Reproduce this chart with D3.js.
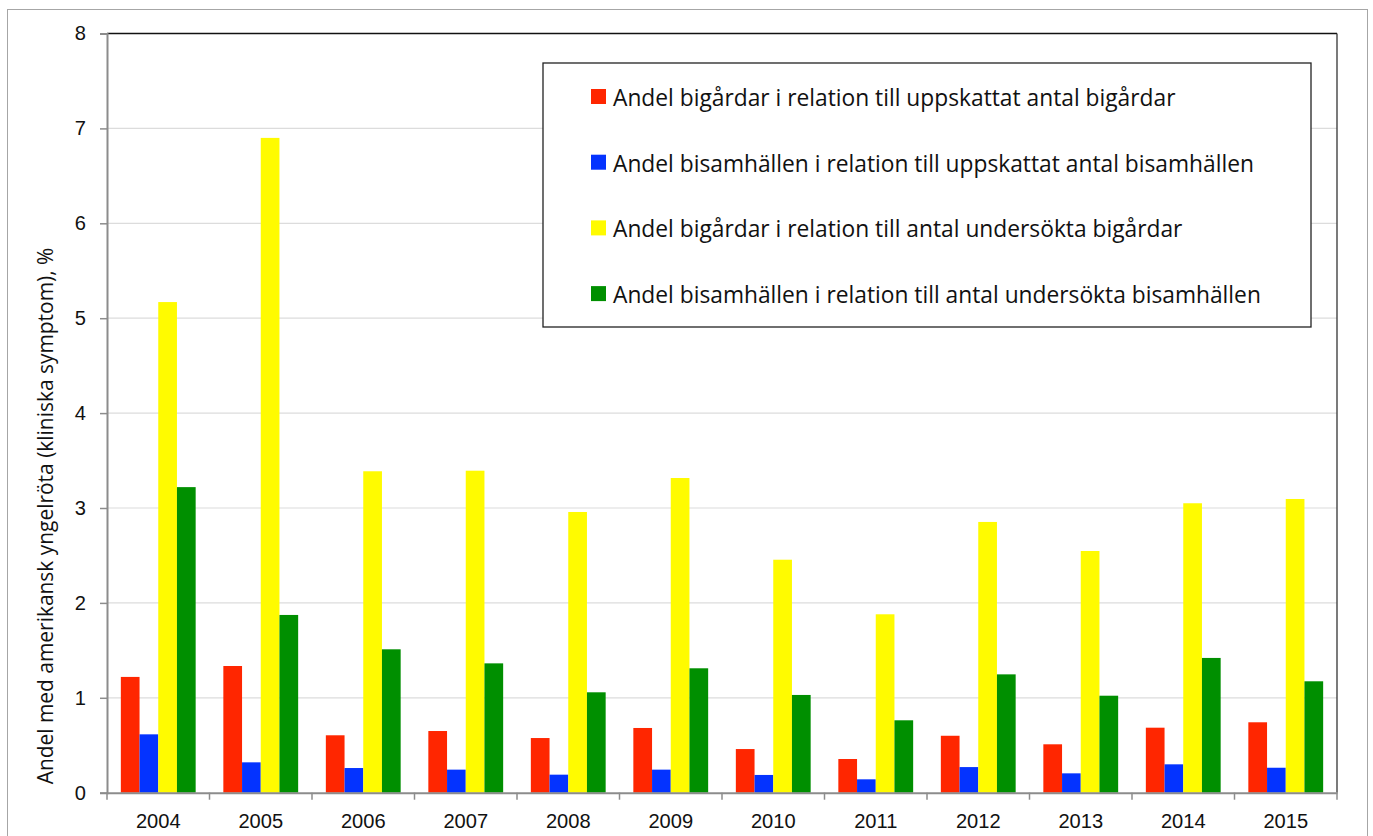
<!DOCTYPE html>
<html><head><meta charset="utf-8">
<script src="https://cdn.jsdelivr.net/npm/d3@7"></script>
<style>
html,body{margin:0;padding:0;background:#fff;}
svg{display:block;font-family:"Open Sans",sans-serif;}
</style></head>
<body><svg id="c" width="1373" height="836"></svg>
<script>
const years = ["2004","2005","2006","2007","2008","2009","2010","2011","2012","2013","2014","2015"];
const seriesNames = [
  "Andel bigårdar i relation till uppskattat antal bigårdar",
  "Andel bisamhällen i relation till uppskattat antal bisamhällen",
  "Andel bigårdar i relation till antal undersökta bigårdar",
  "Andel bisamhällen i relation till antal undersökta bisamhällen"
];
const redValues    = [1.22, 1.335, 0.605, 0.65, 0.576, 0.682, 0.46, 0.355, 0.60, 0.51, 0.685, 0.742];
const blueValues   = [0.615, 0.32, 0.26, 0.243, 0.19, 0.243, 0.187, 0.141, 0.27, 0.204, 0.299, 0.263];
const yellowValues = [5.17, 6.90, 3.387, 3.393, 2.958, 3.316, 2.455, 1.88, 2.853, 2.547, 3.05, 3.095];
const greenValues  = [3.22, 1.873, 1.511, 1.363, 1.058, 1.311, 1.03, 0.763, 1.247, 1.022, 1.42, 1.174];
const seriesColors = ["#FF2600", "#0433FF", "#FFFB00", "#008F00"];
const yTicks = [0,1,2,3,4,5,6,7,8];
const yLabel = "Andel med amerikansk yngelröta (kliniska symptom), %";

const series = [redValues, blueValues, yellowValues, greenValues];
const svg = d3.select("#c");
const L = 107, R = 1337, T = 33.5, B = 792.7;

// outer frame
svg.append("rect").attr("x",7.5).attr("y",9.5).attr("width",1360).attr("height",900)
  .attr("fill","none").attr("stroke","#a6a6a6").attr("stroke-width",1);

const x0 = d3.scaleBand().domain(years).range([L,R]).paddingInner(0).paddingOuter(0);
const x1 = d3.scaleBand().domain(d3.range(4)).range([0, x0.bandwidth()]).paddingOuter(0.74).paddingInner(0);
const y = d3.scaleLinear().domain([0,8]).range([B,T]);

// gridlines
svg.append("g").selectAll("line").data(yTicks.filter(t=>t>0 && t<8)).join("line")
  .attr("x1",L).attr("x2",R).attr("y1",d=>y(d)).attr("y2",d=>y(d))
  .attr("stroke","#dcdcdc").attr("stroke-width",1.2);

// bars
const g = svg.append("g");
years.forEach((yr,i)=>{
  series.forEach((vals,s)=>{
    g.append("rect")
      .attr("x", x0(yr)+x1(s))
      .attr("width", x1.bandwidth())
      .attr("y", y(vals[i]))
      .attr("height", y(0)-y(vals[i]))
      .attr("fill", seriesColors[s]);
  });
});

// plot border top/right
svg.append("line").attr("x1",L).attr("x2",R).attr("y1",T).attr("y2",T).attr("stroke","#111").attr("stroke-width",1.3);
svg.append("line").attr("x1",R).attr("x2",R).attr("y1",T).attr("y2",B).attr("stroke","#333").attr("stroke-width",1.3);

// tick font size fitted so "2004" is ~46px wide
const probe = svg.append("text").attr("font-size",20).text("2004");
const tickFs = 20*46/probe.node().getComputedTextLength();
probe.remove();

// y axis
const yAxis = d3.axisLeft(y).tickValues(yTicks).tickSize(7).tickPadding(14).tickFormat(d3.format("d"));
const ya = svg.append("g").attr("transform",`translate(${L},0)`).call(yAxis);
ya.select(".domain").attr("stroke","#8c8c8c").attr("stroke-width",2);
ya.selectAll(".tick line").attr("stroke","#8c8c8c").attr("stroke-width",1.5);
ya.selectAll(".tick text").attr("font-size",tickFs).attr("fill","#111");

// x axis
const xa = svg.append("g").attr("transform",`translate(0,${B})`).call(d3.axisBottom(x0).tickSize(0).tickPadding(21));
xa.select(".domain").attr("stroke","#8c8c8c").attr("stroke-width",2);
xa.selectAll(".tick text").attr("font-size",tickFs).attr("fill","#111");
// boundary ticks
const bounds = years.map(yr=>x0(yr)).concat([R]);
svg.append("g").selectAll("line").data(bounds).join("line")
  .attr("x1",d=>d).attr("x2",d=>d).attr("y1",B).attr("y2",B+7)
  .attr("stroke","#8c8c8c").attr("stroke-width",1.5);

// y label (fit to reference length)
const yl = svg.append("text").attr("transform",`translate(53,516) rotate(-90)`)
  .attr("text-anchor","middle").attr("font-size",20).attr("fill","#111")
  .text(yLabel);
const ylw = yl.node().getComputedTextLength();
yl.attr("font-size", 20*537/ylw);

// legend
const lg = svg.append("g");
lg.append("rect").attr("x",543).attr("y",63).attr("width",768).attr("height",264)
  .attr("fill","#fff").attr("stroke","#222").attr("stroke-width",1.3);
const texts = [];
seriesNames.forEach((n,i)=>{
  const cy = 97 + i*65.7;
  lg.append("rect").attr("x",591).attr("y",cy-8).attr("width",15).attr("height",15).attr("fill",seriesColors[i]);
  texts.push(lg.append("text").attr("x",613).attr("y",cy+9).attr("font-size",20).attr("fill","#111").text(n));
});
const w0 = texts[0].node().getComputedTextLength();
const fs = 20*563/w0;
texts.forEach(t=>t.attr("font-size",fs));
</script></body></html>
